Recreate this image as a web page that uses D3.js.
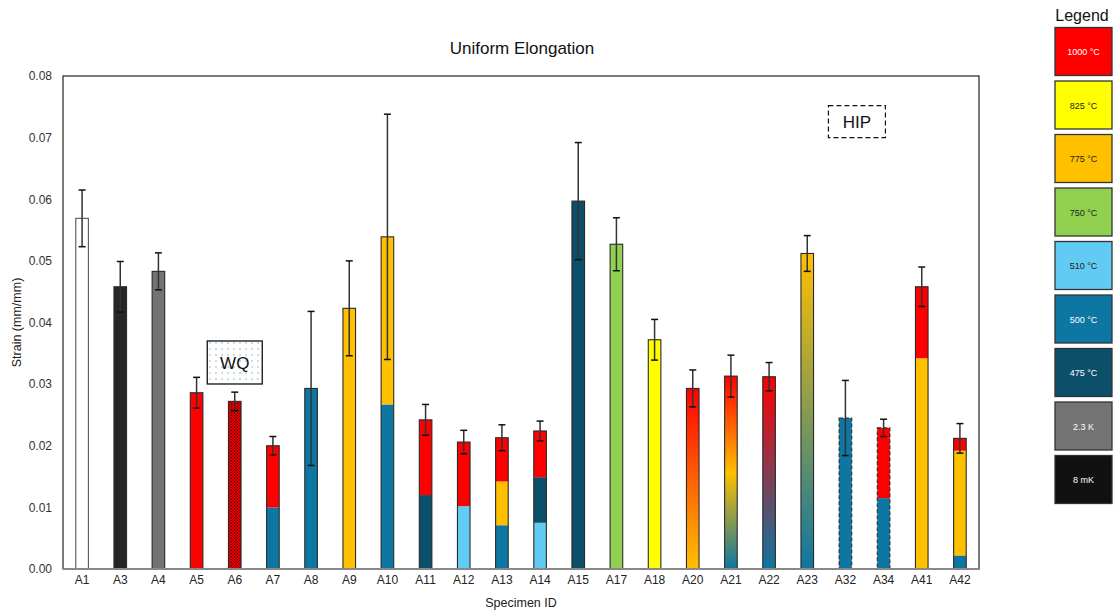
<!DOCTYPE html>
<html>
<head>
<meta charset="utf-8">
<script src="https://cdn.jsdelivr.net/npm/d3@7"></script>
<style>
  body { margin: 0; background: #fff; }
  text { font-family: "Liberation Sans", Arial, sans-serif; }
</style>
</head>
<body>
<svg id="chart" width="1117" height="614"></svg>
<script>
// specimen ids and measured uniform elongation (mean, +/- error)
var specimens = ["A1","A3","A4","A5","A6","A7","A8","A9","A10","A11","A12","A13","A14","A15","A17","A18","A20","A21","A22","A23","A32","A34","A41","A42"];
var strain    = [0.0569,0.0458,0.0483,0.0286,0.0272,0.0200,0.0293,0.0423,0.0539,0.0242,0.0206,0.0213,0.0224,0.0597,0.0527,0.0372,0.0293,0.0313,0.0312,0.0512,0.0245,0.0229,0.0458,0.0212];
var strainErr = [0.0046,0.0041,0.0030,0.0025,0.0015,0.0015,0.0125,0.0077,0.0199,0.0025,0.0019,0.0021,0.0016,0.0095,0.0043,0.0033,0.0030,0.0034,0.0023,0.0029,0.0061,0.0014,0.0032,0.0024];

// fill layers from the bottom up, and where each layer ends
var layers = [["none"],["8 mK"],["2.3 K"],["1000"],["1000wq"],["500","1000"],["500"],["775"],["500","775"],["475","1000"],["510","1000"],["500","775","1000"],["510","475","1000"],["475"],["750"],["825"],["grad"],["grad"],["grad"],["grad"],["500"],["500","1000"],["775","1000"],["500","775","1000"]];
var layerTop = [[],[],[],[],[],[0.0100],[],[],[0.0267],[0.0120],[0.0102],[0.0071,0.0142],[0.0075,0.0149],[],[],[],[],[],[],[],[],[0.0115],[0.0342],[0.0022,0.0192]];

// blended bars: temperatures from top to bottom
var gradients = {
  "A20": ["1000","775"],
  "A21": ["1000","775","500"],
  "A22": ["1000","500"],
  "A23": ["775","500"]
};
var hipSpecimens = ["A32","A34"];

var legendKeys   = ["1000","825","775","750","510","500","475","2.3 K","8 mK"];
var legendLabels = ["1000 \u00b0C","825 \u00b0C","775 \u00b0C","750 \u00b0C","510 \u00b0C","500 \u00b0C","475 \u00b0C","2.3 K","8 mK"];
var legendColors = ["#ff0000","#ffff00","#ffc000","#92d050","#61cbf3","#0e76a2","#0b4f6a","#737373","#111111"];
var legendText   = ["#fff","#222","#222","#222","#222","#fff","#fff","#fff","#fff"];

var yTicks = [0,0.01,0.02,0.03,0.04,0.05,0.06,0.07,0.08];

var colorOf = {};
legendKeys.forEach(function(k, i) { colorOf[k] = legendColors[i]; });
colorOf["none"] = "#ffffff";
colorOf["1000wq"] = "url(#wqFill)";
colorOf["8 mK"] = "#262626";

var svg = d3.select("#chart");
var margin = {left: 63, right: 138, top: 76, bottom: 45};
var plotW = 1117 - margin.left - margin.right,
    plotH = 614 - margin.top - margin.bottom;

var defs = svg.append("defs");

// checkered red for the water quenched bar
var wq = defs.append("pattern").attr("id", "wqFill")
    .attr("width", 3).attr("height", 3).attr("patternUnits", "userSpaceOnUse");
wq.append("rect").attr("width", 3).attr("height", 3).attr("fill", "#e00000");
wq.append("rect").attr("width", 1).attr("height", 1).attr("fill", "#3a0000");
wq.append("rect").attr("x", 1.5).attr("y", 1.5).attr("width", 1).attr("height", 1).attr("fill", "#600000");

// dotted fill for the WQ label
var dots = defs.append("pattern").attr("id", "dots")
    .attr("width", 6).attr("height", 6).attr("patternUnits", "userSpaceOnUse");
dots.append("rect").attr("width", 6).attr("height", 6).attr("fill", "#fff");
dots.append("circle").attr("cx", 3).attr("cy", 3).attr("r", 0.7).attr("fill", "#6aa3c8");

Object.keys(gradients).forEach(function(id) {
  var stops = gradients[id];
  var lg = defs.append("linearGradient").attr("id", "grad" + id)
      .attr("x1", 0).attr("y1", 0).attr("x2", 0).attr("y2", 1);
  stops.forEach(function(t, i) {
    lg.append("stop").attr("offset", (i / (stops.length - 1) * 100) + "%")
      .attr("stop-color", colorOf[t]);
  });
});

var g = svg.append("g").attr("transform", "translate(" + margin.left + "," + margin.top + ")");

var x = d3.scaleBand().domain(specimens).range([0, plotW])
    .paddingInner(0.67).paddingOuter(0.335);
var y = d3.scaleLinear().domain([0, 0.08]).range([plotH, 0]);

// frame
g.append("rect").attr("width", plotW).attr("height", plotH)
  .attr("fill", "none").attr("stroke", "#222").attr("stroke-width", 1.2);

// y axis labels
var yAxis = g.append("g").call(d3.axisLeft(y).tickValues(yTicks).tickFormat(d3.format(".2f")).tickSize(0).tickPadding(11));
yAxis.select(".domain").remove();
yAxis.selectAll("text").attr("font-size", 12).attr("fill", "#333");

// bars
var rows = specimens.map(function(id, i) {
  return {id: id, v: strain[i], e: strainErr[i], layers: layers[i], tops: layerTop[i]};
});

var bar = g.selectAll(".bar").data(rows).enter().append("g").attr("class", "bar");

bar.each(function(d) {
  var sel = d3.select(this);
  var bounds = [0].concat(d.tops).concat([d.v]);
  d.layers.forEach(function(t, k) {
    var fill = t === "grad" ? "url(#grad" + d.id + ")" : colorOf[t];
    sel.append("rect")
      .attr("x", x(d.id)).attr("width", x.bandwidth())
      .attr("y", y(bounds[k + 1])).attr("height", y(bounds[k]) - y(bounds[k + 1]))
      .attr("fill", fill);
  });
  var hip = hipSpecimens.indexOf(d.id) >= 0;
  sel.append("rect")
    .attr("x", x(d.id)).attr("width", x.bandwidth())
    .attr("y", y(d.v)).attr("height", y(0) - y(d.v))
    .attr("fill", "none")
    .attr("stroke", d.id === "A1" ? "#555" : "#2a2a2a")
    .attr("stroke-width", 1.1)
    .attr("stroke-dasharray", hip ? "4,2" : null);

  // error bar
  var cx = x(d.id) + x.bandwidth() / 2;
  sel.append("line").attr("x1", cx).attr("x2", cx)
    .attr("y1", y(d.v + d.e)).attr("y2", y(d.v - d.e))
    .attr("stroke", "#333").attr("stroke-width", 1.5);
  [d.v + d.e, d.v - d.e].forEach(function(v) {
    sel.append("line").attr("x1", cx - 3.5).attr("x2", cx + 3.5)
      .attr("y1", y(v)).attr("y2", y(v))
      .attr("stroke", "#111").attr("stroke-width", 1.5);
  });
});

// x axis
g.append("line").attr("x1", 0).attr("x2", plotW).attr("y1", plotH).attr("y2", plotH)
  .attr("stroke", "#888").attr("stroke-width", 2);
var xAxis = g.append("g").attr("transform", "translate(0," + plotH + ")")
  .call(d3.axisBottom(x).tickSize(0).tickPadding(6));
xAxis.select(".domain").remove();
xAxis.selectAll("text").attr("font-size", 12).attr("fill", "#222");

// annotations
g.append("rect").attr("x", x("A6") + x.bandwidth() / 2 - 27.5).attr("y", y(0.0370))
  .attr("width", 55).attr("height", 43)
  .attr("fill", "url(#dots)").attr("stroke", "#111").attr("stroke-width", 1.3);
g.append("text").attr("x", x("A6") + x.bandwidth() / 2).attr("y", y(0.0370) + 28)
  .attr("text-anchor", "middle").attr("font-size", 17).attr("fill", "#111").text("WQ");

g.append("rect").attr("x", x("A32") + x.bandwidth() / 2 - 17).attr("y", y(0.0752))
  .attr("width", 57).attr("height", 32)
  .attr("fill", "#fff").attr("stroke", "#111").attr("stroke-width", 1.2)
  .attr("stroke-dasharray", "5,3");
g.append("text").attr("x", x("A32") + x.bandwidth() / 2 + 11.5).attr("y", y(0.0752) + 22)
  .attr("text-anchor", "middle").attr("font-size", 17).attr("fill", "#111").text("HIP");

// titles
svg.append("text").attr("x", margin.left + plotW / 2 + 1).attr("y", 54)
  .attr("text-anchor", "middle").attr("font-size", 17).attr("fill", "#111").text("Uniform Elongation");
svg.append("text").attr("x", margin.left + plotW / 2).attr("y", 607)
  .attr("text-anchor", "middle").attr("font-size", 12.5).attr("fill", "#222").text("Specimen ID");
svg.append("text").attr("transform", "translate(21," + (margin.top + plotH / 2) + ") rotate(-90)")
  .attr("text-anchor", "middle").attr("font-size", 12.5).attr("fill", "#222").text("Strain (mm/mm)");

// legend
var legend = svg.append("g").attr("transform", "translate(1055,0)");
legend.append("text").attr("x", 27).attr("y", 21).attr("text-anchor", "middle")
  .attr("font-family", "'Open Sans', sans-serif").attr("font-size", 16).attr("fill", "#111").text("Legend");
var item = legend.selectAll(".item").data(legendKeys).enter().append("g")
  .attr("transform", function(d, i) { return "translate(0," + (27.5 + i * 53.5) + ")"; });
item.append("rect").attr("width", 57).attr("height", 48)
  .attr("fill", function(d, i) { return legendColors[i]; })
  .attr("stroke", "#333").attr("stroke-width", 1.3);
item.append("text").attr("x", 28.5).attr("y", 27.5).attr("text-anchor", "middle")
  .attr("font-family", "'Open Sans', sans-serif").attr("font-size", 9)
  .attr("fill", function(d, i) { return legendText[i]; })
  .text(function(d, i) { return legendLabels[i]; });
</script>
</body>
</html>
